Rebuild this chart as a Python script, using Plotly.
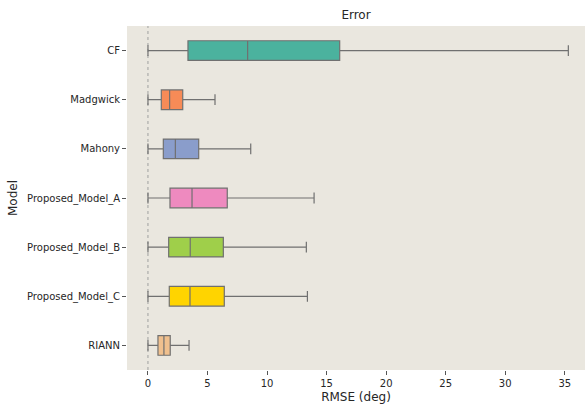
import plotly.graph_objects as go

# Per-model RMSE summary statistics (deg)
models = ["CF", "Madgwick", "Mahony", "Proposed_Model_A",
          "Proposed_Model_B", "Proposed_Model_C", "RIANN"]
lower = [0.0, 0.0, 0.0, 0.0, 0.0, 0.0, 0.0]
q1 = [3.36, 1.12, 1.29, 1.85, 1.74, 1.79, 0.84]
median = [8.37, 1.82, 2.30, 3.70, 3.55, 3.53, 1.34]
q3 = [16.1, 2.92, 4.26, 6.66, 6.33, 6.41, 1.87]
upper = [35.3, 5.63, 8.63, 13.95, 13.3, 13.39, 3.45]

colors = ["#4BB29E", "#F78B57", "#8A9DCB", "#EE8ABF",
          "#9FCF4A", "#FFD400", "#F0C08E"]

fig = go.Figure()
for i, m in enumerate(models):
    fig.add_trace(go.Box(
        y=[m], q1=[q1[i]], median=[median[i]], q3=[q3[i]],
        lowerfence=[lower[i]], upperfence=[upper[i]],
        orientation="h", fillcolor=colors[i],
        line=dict(color="#707070", width=1.2),
        whiskerwidth=0.55, width=0.4, boxpoints=False,
        showlegend=False, name=m, hoverinfo="x",
    ))

# Zero reference line
fig.add_shape(type="line", xref="x", yref="paper", x0=0, x1=0, y0=0, y1=1,
              line=dict(color="#A0A0A0", width=1, dash="dot"), layer="below")

fig.update_layout(
    width=585, height=407,
    margin=dict(l=127, r=0, t=26, b=37),
    paper_bgcolor="white", plot_bgcolor="#EAE7DF",
    boxmode="overlay",
    font=dict(family="DejaVu Sans", size=10, color="#262626"),
    title=dict(text="Error", x=356 / 585, xanchor="center",
               y=1 - 15 / 407, yanchor="middle", font=dict(size=12)),
    xaxis=dict(range=[-1.76, 36.7], tickvals=[0, 5, 10, 15, 20, 25, 30, 35],
               showgrid=False, zeroline=False, ticks="outside", ticklen=4,
               tickcolor="#555555", title=dict(text="RMSE (deg)", standoff=4)),
    yaxis=dict(categoryorder="array", categoryarray=models,
               range=[6.5, -0.5], showgrid=False, zeroline=False,
               ticks="outside", ticklen=4, tickcolor="#555555",
               title=dict(text="Model", standoff=6)),
)

fig.write_html("out.html")
